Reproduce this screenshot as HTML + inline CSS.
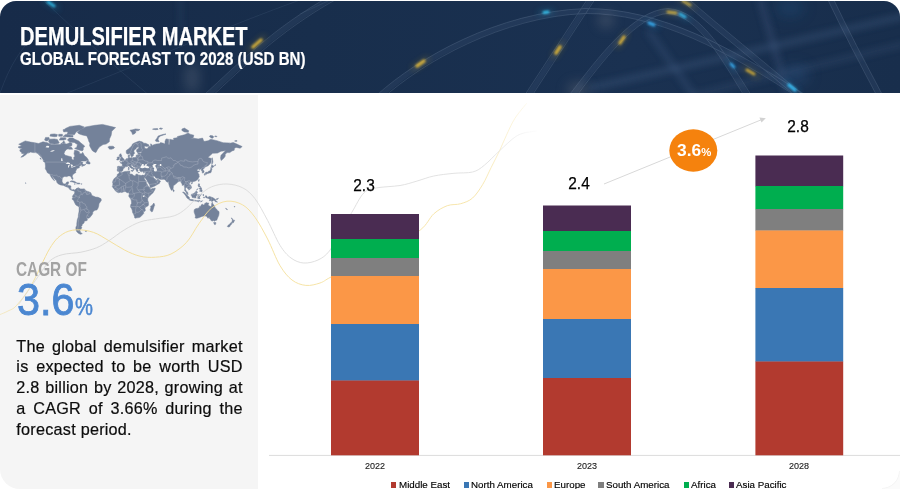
<!DOCTYPE html>
<html><head><meta charset="utf-8">
<style>
html,body{margin:0;padding:0;}
html{overflow:hidden;width:900px;height:489px;}
body{width:900px;height:489px;position:relative;overflow:hidden;background:#fff;font-family:"Liberation Sans",sans-serif;}
.abs{position:absolute;}
#hdr{left:0;top:1px;width:900px;height:92px;border-radius:16px 16px 0 0;overflow:hidden;
 background:linear-gradient(90deg,#172b49 0%,#182e4c 35%,#1a3151 70%,#182e4c 100%);}
#panel{left:0;top:95px;width:258px;height:394px;background:#f5f5f5;border-bottom-left-radius:20px;}
.t1{left:20.1px;top:22.2px;color:#fff;font-weight:bold;font-size:25.3px;line-height:28px;white-space:nowrap;transform-origin:0 0;transform:scaleX(0.794);-webkit-text-stroke:0.25px #fff;}
.t2{left:20.3px;top:48.1px;color:#fff;font-weight:bold;font-size:19.2px;line-height:22px;white-space:nowrap;transform-origin:0 0;transform:scaleX(0.787);-webkit-text-stroke:0.2px #fff;}
.cagr{left:16.3px;top:257.2px;color:#a3a3a3;font-weight:bold;font-size:20.9px;line-height:24px;white-space:nowrap;transform-origin:0 0;transform:scaleX(0.735);}
.big{left:16.6px;top:274.6px;color:#4b87d1;font-size:43.5px;line-height:50px;white-space:nowrap;transform-origin:0 0;transform:scaleX(0.95);-webkit-text-stroke:0.9px #4b87d1;}
.bigp{left:75.4px;top:291.6px;color:#4b87d1;font-size:24.6px;line-height:30px;white-space:nowrap;transform-origin:0 0;transform:scaleX(0.82);-webkit-text-stroke:0.5px #4b87d1;}
.para{left:16.3px;top:335.6px;width:226.4px;color:#0c0c0c;font-size:16.2px;letter-spacing:0.25px;line-height:20.9px;-webkit-text-stroke:0.2px #0c0c0c;}
.para div{text-align:justify;text-align-last:justify;white-space:nowrap;height:20.9px;}
.para div.last{text-align-last:left;}
.val{color:#000;font-size:16.5px;line-height:18px;width:60px;text-align:center;-webkit-text-stroke:0.25px #000;transform:scaleX(0.935);}
.yr{color:#1a1a1a;-webkit-text-stroke:0.12px #1a1a1a;font-size:9px;line-height:12px;width:60px;text-align:center;}
.lg{top:478.8px;font-size:9.7px;line-height:12px;color:#000;white-space:nowrap;-webkit-text-stroke:0.15px #000;transform-origin:0 0;transform:scaleX(1.008);}
.sq{position:absolute;top:482.3px;width:5.4px;height:5.4px;}
</style></head><body>
<div id="hdr" class="abs">
<svg width="900" height="92" viewBox="0 1 900 92" style="position:absolute;left:0;top:0">
<defs>
<filter id="b1" x="-20%" y="-20%" width="140%" height="140%"><feGaussianBlur stdDeviation="0.7"/></filter>
<filter id="b2" x="-50%" y="-50%" width="200%" height="200%"><feGaussianBlur stdDeviation="1.1"/></filter>
<filter id="b3" x="-50%" y="-50%" width="200%" height="200%"><feGaussianBlur stdDeviation="3"/></filter>
<filter id="b8" x="-50%" y="-50%" width="200%" height="200%"><feGaussianBlur stdDeviation="7"/></filter>
</defs>

<!-- broad soft bands -->
<g filter="url(#b3)" fill="none" stroke="#48628a">
<path d="M590 88L905 16" stroke-width="7" opacity="0.30"/>
<path d="M690 96L905 44" stroke-width="6" opacity="0.22"/>
<path d="M760 -2L788 96" stroke-width="7" opacity="0.28"/>
<path d="M648 30L694 96" stroke-width="7" opacity="0.25"/>
<path d="M180 -2L181 30" stroke-width="3" opacity="0.25"/>
</g>
<g filter="url(#b8)" opacity="0.55">
<ellipse cx="192" cy="78" rx="5" ry="16" fill="#8b93a0" opacity="0.7"/>
<ellipse cx="606" cy="20" rx="6" ry="6" fill="#a9a4a8" opacity="0.8"/>
<ellipse cx="578" cy="90" rx="10" ry="6" fill="#8d8a8c" opacity="0.8"/>
<ellipse cx="795" cy="75" rx="14" ry="10" fill="#2a527e" opacity="0.8"/>
<ellipse cx="790" cy="8" rx="14" ry="8" fill="#23507c" opacity="0.8"/>
</g>
<!-- tubes -->
<g fill="none" stroke-linecap="round" filter="url(#b1)">
<g stroke="#6f87a8" opacity="0.11" stroke-width="5">
<path d="M207 96C240 66 275 30 332 -2"/>
<path d="M380 96C420 60 500 14 585 11C660 10 730 50 802 96"/>
<path d="M528 96L592 -2"/>
<path d="M572 96C600 60 635 12 668 11C700 12 725 60 748 96"/>
<path d="M683 -2C720 30 760 62 800 96"/>
<path d="M830 -2C845 30 862 62 880 96"/>
</g>
<g stroke="#9fb2cc" opacity="0.26" stroke-width="0.7">
<path d="M205 94C238 64 273 28 330 -4"/><path d="M210 98C243 68 278 32 335 0"/>
<path d="M378 94C418 58 498 12 585 8.5C660 8 732 48 804 94"/><path d="M383 98C423 62 502 17 585 13.5C658 13 728 52 799 98"/>
<path d="M525.5 94L589.5 -4"/><path d="M530.5 98L594.5 0"/>
<path d="M570 94C598 58 633 10 668 8.5C702 10 727 58 750.5 94"/><path d="M575 98C602 62 637 15 668 13.5C698 15 723 62 745.5 98"/>
<path d="M685 -4C722 28 762 60 802 94"/><path d="M681 0C718 32 758 64 798 98"/>
<path d="M832.5 -3C847.5 29 864.5 61 882.5 95"/><path d="M827.5 -1C842.5 31 859.5 63 877.5 97"/>
</g>
<g stroke="#5f7796" opacity="0.22" stroke-width="0.8">
<path d="M43 0C70 25 95 50 150 96"/><path d="M60 96C150 60 230 25 300 0"/>
<path d="M0 93C5 80 12 60 30 40"/>
<path d="M300 14L328 1"/>
</g>
</g>
<g filter="url(#b3)" stroke-linecap="round" fill="none"><path d="M44.7 -0.2L57.3 8.2" stroke="#2fb5e0" stroke-width="3.5" opacity="0.3"/><path d="M250.0 49.6L264.0 37.4" stroke="#e2b83a" stroke-width="3.5" opacity="0.3"/><path d="M413.7 68.3L427.3 58.7" stroke="#e2b83a" stroke-width="3.5" opacity="0.3"/><path d="M540.0 13.0L552.0 11.5" stroke="#35c0ea" stroke-width="3.5" opacity="0.3"/><path d="M553.8 56.3L562.2 43.7" stroke="#e2b83a" stroke-width="3.5" opacity="0.3"/><path d="M617.8 46.3L626.2 33.7" stroke="#e2b83a" stroke-width="3.5" opacity="0.3"/><path d="M645.3 21.5L657.7 26.5" stroke="#35a8ea" stroke-width="3.5" opacity="0.3"/><path d="M664.0 11.5L680.0 13.5" stroke="#d9b640" stroke-width="3.5" opacity="0.3"/><path d="M676.6 11.9L688.4 19.1" stroke="#35b8ea" stroke-width="3.5" opacity="0.3"/><path d="M679.5 -1.0L693.5 7.0" stroke="#d9b640" stroke-width="3.5" opacity="0.3"/><path d="M728.2 61.2L736.8 69.8" stroke="#35a8ea" stroke-width="3.5" opacity="0.3"/><path d="M743.5 68.0L757.5 76.0" stroke="#e2b83a" stroke-width="3.5" opacity="0.3"/><path d="M785.9 82.4L798.1 92.6" stroke="#35b8f0" stroke-width="3.5" opacity="0.3"/></g>
<!-- glows -->
<g filter="url(#b2)" stroke-linecap="round">
<path d="M48 2L54 6" stroke="#2fb5e0" stroke-width="3" opacity="0.9" fill="none"/>
<path d="M253 47L261 40" stroke="#e2b83a" stroke-width="3.4" opacity="0.85" fill="none"/>
<path d="M417 66L424 61" stroke="#e2b83a" stroke-width="3.4" opacity="0.85" fill="none"/>
<path d="M544 12.5L548 12" stroke="#35c0ea" stroke-width="3.2" opacity="0.95" fill="none"/>
<path d="M556 53L560 47" stroke="#e2b83a" stroke-width="3.6" opacity="0.85" fill="none"/>
<path d="M620 43L624 37" stroke="#e2b83a" stroke-width="3.4" opacity="0.8" fill="none"/>
<path d="M649 23L654 25" stroke="#35a8ea" stroke-width="3" opacity="0.95" fill="none"/>
<path d="M668 12L676 13" stroke="#d9b640" stroke-width="3" opacity="0.8" fill="none"/>
<path d="M680 14L685 17" stroke="#35b8ea" stroke-width="3" opacity="0.9" fill="none"/>
<path d="M683 1L690 5" stroke="#d9b640" stroke-width="3" opacity="0.7" fill="none"/>
<path d="M731 64L734 67" stroke="#35a8ea" stroke-width="2.6" opacity="0.95" fill="none"/>
<path d="M747 70L754 74" stroke="#e2b83a" stroke-width="3" opacity="0.8" fill="none"/>
<path d="M789 85L795 90" stroke="#35b8f0" stroke-width="3.4" opacity="0.95" fill="none"/>
</g>

</svg>
</div>
<div class="abs t1" id="t1">DEMULSIFIER MARKET</div>
<div class="abs t2" id="t2">GLOBAL FORECAST TO 2028 (USD BN)</div>
<div id="panel" class="abs"></div>
<svg class="abs" style="left:0;top:0" width="900" height="489" viewBox="0 0 900 489">
<defs>
<linearGradient id="gy" gradientUnits="userSpaceOnUse" x1="0" y1="0" x2="540" y2="0">
<stop offset="0" stop-color="#f3dc8f" stop-opacity="0.5"/><stop offset="0.08" stop-color="#f3dc8f"/><stop offset="0.88" stop-color="#f6e3a3"/><stop offset="1" stop-color="#f6e3a3" stop-opacity="0"/></linearGradient>
<linearGradient id="gg" gradientUnits="userSpaceOnUse" x1="0" y1="0" x2="540" y2="0">
<stop offset="0" stop-color="#d9d9d9" stop-opacity="0.4"/><stop offset="0.08" stop-color="#d6d6d6"/><stop offset="0.9" stop-color="#e0e0e0"/><stop offset="1" stop-color="#dedede" stop-opacity="0"/></linearGradient>
</defs>
<g id="map"><path d="M18.0 147.1L21.7 145.7L18.7 144.3L25.2 140.9L30.5 142.1L34.9 142.8L38.6 143.5L43.0 141.8L47.4 142.7L51.1 144.6L55.5 144.6L59.3 144.6L61.8 144.0L63.7 140.7L64.9 142.4L64.3 143.5L66.8 144.0L68.0 143.5L69.9 142.6L72.1 143.5L71.8 145.7L69.3 146.7L68.7 148.7L66.8 149.2L64.9 151.2L64.0 153.5L65.2 155.3L68.0 156.0L71.5 156.9L71.8 158.8L73.0 160.3L73.9 159.2L73.7 157.5L74.9 156.2L74.0 153.8L74.6 150.3L76.8 150.4L79.3 151.7L79.6 153.8L81.8 153.7L82.7 152.3L84.6 155.8L86.8 157.5L88.2 159.7L87.4 160.2L85.6 161.1L81.8 161.1L79.9 162.5L81.5 162.1L82.9 162.3L82.4 163.7L83.1 164.5L84.9 164.7L85.6 164.1L85.4 164.9L83.1 165.9L81.8 166.4L82.4 165.1L81.2 165.3L79.3 166.3L79.3 167.8L76.8 168.6L76.2 170.2L75.5 171.2L75.9 172.5L74.3 173.4L72.7 174.8L72.2 176.2L73.0 178.5L72.7 179.4L71.9 178.9L71.3 177.5L70.5 176.2L69.3 175.9L67.4 176.0L67.2 176.8L66.2 176.6L64.3 176.5L62.4 177.7L62.2 179.2L62.0 181.2L63.0 183.5L64.0 184.0L65.8 183.8L66.5 182.3L68.0 181.8L68.7 182.0L68.4 183.5L67.9 184.4L67.7 185.5L69.3 185.5L71.0 186.0L70.7 188.0L71.2 189.2L72.1 189.9L73.4 189.5L74.7 190.1L74.2 190.8L73.0 190.9L72.4 190.5L71.2 190.3L69.5 189.2L68.4 187.4L66.8 186.9L65.4 186.4L63.7 185.4L60.5 184.9L58.0 183.7L57.0 182.6L56.5 180.7L54.6 178.9L53.0 176.8L51.3 175.0L52.4 176.8L53.6 178.9L54.6 180.7L53.0 179.5L51.5 177.5L50.5 175.8L49.8 174.3L49.0 173.4L47.6 173.0L46.5 170.7L45.3 168.8L45.5 166.1L45.1 162.7L46.1 162.5L44.9 161.3L43.0 159.7L41.8 157.5L39.9 155.8L38.3 154.0L36.8 153.1L35.5 152.6L33.0 152.6L30.5 152.1L28.3 153.2L29.2 151.5L27.1 153.5L25.5 154.9L23.0 156.7L20.8 157.3L22.4 155.8L24.2 154.0L24.9 153.7L21.7 153.5L21.7 152.6L19.9 151.2L19.9 149.7L22.4 148.2L19.9 148.2ZM82.4 150.9L78.7 149.9L74.6 148.4L76.8 147.2L77.4 144.6L74.3 142.4L69.9 142.2L67.4 140.1L69.3 138.0L73.0 138.1L74.9 139.3L78.7 140.9L80.9 143.0L84.3 145.7L84.6 146.7L83.1 147.7L83.4 149.2ZM49.9 143.5L54.3 143.9L57.4 143.8L59.3 143.0L57.4 139.5L54.3 138.9L49.3 139.2L48.6 141.3ZM44.6 140.1L46.1 141.0L47.7 140.7L49.3 138.9L49.0 137.4L45.5 137.4ZM66.8 134.6L74.3 134.8L76.2 131.9L81.8 129.1L84.3 126.9L79.3 125.3L69.9 126.4L65.5 128.4L68.0 131.9ZM63.0 136.5L67.4 137.0L73.0 136.9L73.0 135.6L65.5 134.4ZM49.9 136.1L54.3 136.7L56.8 136.5L57.4 134.6L54.3 133.9L50.5 134.3ZM58.7 136.2L62.4 136.2L62.4 134.3L58.7 134.3ZM63.7 131.9L68.0 131.6L66.8 128.4L63.0 129.8ZM68.7 149.2L72.7 149.2L71.2 146.9L69.0 147.2ZM59.3 140.1L63.7 140.1L66.2 139.2L65.5 137.7L60.5 137.7ZM60.8 143.5L63.3 143.9L63.0 142.6ZM86.0 163.2L88.1 163.9L89.9 164.0L90.1 163.2L89.6 161.9L88.2 161.3L88.4 160.0L87.1 160.9L86.0 162.9ZM42.8 160.7L44.9 161.1L45.9 162.6L44.6 162.3ZM39.9 158.0L40.8 158.0L41.0 159.5ZM69.9 181.6L71.8 180.7L74.3 181.3L76.7 182.7L74.6 182.9L74.3 182.4L71.8 181.8ZM76.5 183.8L77.5 182.9L79.9 183.3L80.3 183.7L78.7 184.0ZM74.1 183.9L75.4 184.0L74.8 184.2ZM81.1 183.8L82.1 183.9L81.5 184.2ZM77.4 132.2L80.6 129.8L85.6 126.9L94.9 125.3L102.5 124.4L109.3 126.1L115.6 127.6L111.8 131.2L111.2 135.2L109.5 138.9L109.3 141.8L106.2 144.0L103.1 144.6L99.3 147.0L97.4 149.7L95.9 152.6L94.3 151.9L92.4 150.7L90.9 148.2L89.6 145.7L89.9 143.0L89.0 141.8L88.1 138.9L86.8 135.9L82.4 135.0L78.7 133.7ZM107.8 147.2L109.3 146.3L113.1 146.2L114.6 147.5L113.7 148.5L111.2 149.3L108.9 148.9L109.3 147.9ZM74.7 190.1L75.9 188.9L76.3 188.6L78.4 187.7L79.3 188.3L80.6 188.9L83.1 188.9L84.3 188.8L85.2 190.0L86.8 191.2L88.7 191.7L90.6 192.5L91.5 194.2L91.8 195.5L93.1 195.9L95.6 197.1L98.1 197.3L101.1 198.8L101.3 200.5L99.0 203.7L98.7 206.2L97.9 208.4L96.8 210.1L95.9 210.1L94.1 210.8L92.8 212.1L92.7 213.8L91.5 215.5L90.3 216.9L89.3 218.1L87.7 218.3L86.6 217.8L87.4 219.4L87.1 220.5L84.3 221.2L84.1 222.7L83.2 223.8L82.2 224.2L82.1 225.7L80.9 226.5L81.9 227.4L80.9 229.3L79.9 230.5L80.3 231.7L80.2 232.2L82.3 233.6L80.6 234.3L78.7 233.5L76.8 231.8L75.9 229.7L75.9 227.3L76.8 225.3L76.8 223.4L77.0 221.9L77.3 219.8L78.3 216.9L78.4 214.8L79.0 211.8L79.1 210.5L79.1 207.1L78.0 206.2L75.9 205.0L74.9 203.2L73.7 200.6L72.2 199.3L72.2 198.4L73.0 197.6L72.4 196.9L72.9 195.5L73.4 194.9L73.8 194.2L74.8 193.1L74.6 192.1L74.4 191.0ZM84.9 230.9L86.8 230.8L86.2 231.6ZM119.6 172.0L119.2 171.5L118.1 171.2L117.5 171.2L117.2 170.0L117.6 168.2L117.3 166.8L118.1 166.3L120.7 166.4L122.1 166.5L122.3 164.9L122.3 164.4L121.7 163.6L120.2 162.9L120.3 162.4L121.8 162.4L122.0 161.6L123.2 161.7L124.2 160.6L125.1 160.2L125.8 159.5L126.1 158.8L127.5 158.4L128.5 158.0L128.2 156.7L128.2 155.3L129.7 154.7L129.5 156.2L129.2 157.1L129.5 157.6L130.0 158.0L130.8 157.8L131.5 157.5L132.0 158.0L133.4 157.5L134.8 157.6L135.6 157.3L136.2 156.4L136.2 155.3L137.2 154.7L138.0 155.3L138.4 154.2L137.8 153.3L138.6 153.1L140.6 153.1L142.0 152.7L141.1 152.0L138.7 152.4L137.5 152.7L136.9 152.1L136.6 151.2L136.6 149.7L139.0 147.7L138.2 146.9L137.0 147.2L135.8 148.9L134.0 150.3L133.9 151.9L134.7 153.1L133.5 154.6L133.4 155.6L132.9 156.1L132.0 156.8L131.2 156.7L130.5 154.7L129.8 153.2L128.1 154.3L126.6 153.5L126.2 152.2L126.3 150.5L128.4 149.0L129.9 147.8L130.9 146.7L132.1 145.3L132.5 144.0L134.9 142.7L139.2 141.1L142.5 141.9L143.7 143.2L145.6 143.3L148.8 144.8L148.8 146.0L146.9 146.5L144.4 145.9L144.7 148.2L146.3 148.8L148.3 148.1L148.0 147.1L149.4 146.3L150.6 146.5L150.8 144.8L150.2 143.9L151.9 144.4L152.2 145.7L153.1 145.0L156.3 144.0L159.4 143.7L160.6 142.6L163.5 143.3L165.0 144.0L165.0 141.3L166.0 138.9L168.5 139.2L168.8 141.3L168.5 144.6L169.4 144.6L169.7 141.3L169.7 139.2L171.9 139.8L173.8 140.1L173.5 138.3L177.2 137.7L177.5 136.5L184.4 134.8L188.2 133.0L190.0 134.2L193.8 135.2L193.2 137.7L190.0 138.6L194.1 138.3L198.2 138.9L202.6 138.1L203.8 141.3L205.1 141.3L208.2 140.7L210.7 139.3L217.0 140.7L223.2 142.7L229.5 143.0L228.8 143.5L233.2 142.6L235.7 143.5L238.9 145.1L242.2 146.6L240.1 148.2L236.4 147.4L234.5 148.1L234.2 150.2L232.0 150.9L229.8 152.6L227.0 152.6L225.1 154.4L225.3 156.0L224.5 157.3L223.2 158.8L221.1 160.5L220.5 158.0L221.0 155.3L224.2 152.1L225.7 150.4L223.2 151.0L221.0 151.2L217.6 153.1L213.8 153.2L212.6 153.2L209.8 155.8L207.9 157.4L211.5 158.6L211.0 160.5L211.0 162.5L209.8 164.1L208.2 165.8L205.7 166.7L204.8 167.3L204.3 168.3L202.9 169.2L202.9 169.6L204.1 171.2L203.9 172.5L202.3 173.1L202.2 171.6L202.3 170.9L201.3 170.5L201.4 169.4L200.9 169.1L199.1 169.8L199.4 168.5L197.7 169.4L196.8 169.8L197.2 170.5L197.6 171.1L199.7 171.0L198.5 172.0L197.7 172.7L198.5 173.7L199.3 175.1L198.8 175.9L199.4 176.3L198.8 177.5L198.0 178.9L196.9 179.9L196.1 180.7L194.6 181.3L192.6 181.8L192.1 182.6L191.7 181.8L190.7 181.8L189.9 182.4L189.2 183.5L189.7 184.4L190.9 185.4L191.5 187.3L191.3 188.3L190.0 189.0L189.7 189.5L188.7 190.1L188.8 189.2L187.9 188.8L187.2 188.0L186.0 187.0L185.7 188.0L185.2 188.9L185.9 190.2L186.3 191.2L187.1 191.6L187.8 192.7L187.9 193.9L188.2 194.7L187.8 194.6L187.0 194.1L186.5 193.6L185.9 192.1L185.5 191.4L184.6 190.5L184.7 189.2L184.8 188.0L184.2 186.0L184.2 185.1L183.2 185.1L182.1 185.4L182.2 184.1L181.2 182.7L180.5 181.3L179.7 181.2L178.8 181.6L178.2 181.7L177.5 181.9L177.2 182.8L175.2 184.3L174.6 185.0L173.3 185.7L173.3 187.3L173.0 189.0L172.5 189.7L171.6 190.4L170.8 189.2L169.9 187.3L169.3 185.7L168.7 183.5L168.6 182.2L168.5 181.5L167.2 182.3L166.3 181.4L166.1 180.7L165.3 180.2L164.9 179.5L163.1 179.3L161.9 179.4L160.0 179.3L159.0 178.9L158.5 178.1L157.2 178.5L155.9 177.9L154.9 176.8L154.4 176.0L153.4 176.2L153.1 176.6L153.6 177.7L154.4 178.4L154.9 179.2L155.3 178.8L155.4 179.7L156.9 180.1L158.1 179.0L158.4 178.7L158.5 179.9L159.8 180.5L160.5 181.2L159.7 182.5L159.3 183.5L158.1 184.1L156.9 184.8L155.8 185.4L153.8 186.5L151.3 187.4L150.3 187.5L149.9 186.0L149.7 185.0L148.8 183.5L147.6 181.8L146.9 180.2L145.9 178.9L145.0 177.5L145.0 176.5L144.7 177.5L144.5 177.7L143.5 176.2L143.3 175.3L144.6 175.3L145.0 174.2L145.3 173.4L145.5 172.3L145.8 171.5L144.7 171.4L143.6 172.0L142.3 171.3L141.6 171.8L140.7 171.5L140.2 171.2L139.6 170.2L139.5 169.4L139.5 169.1L139.4 168.5L137.5 168.7L138.1 169.1L137.3 169.6L138.1 170.5L137.6 171.6L137.1 171.6L136.7 171.4L136.4 170.5L135.9 169.6L135.2 168.7L135.3 167.7L134.7 167.3L134.0 166.8L133.1 166.4L132.6 165.9L132.2 165.1L131.6 165.4L131.7 164.7L130.8 165.1L130.9 165.4L131.0 166.1L131.5 166.4L132.0 167.2L133.2 167.6L133.7 168.2L134.4 168.6L134.7 169.0L134.6 169.2L133.9 168.7L133.5 169.3L133.8 169.8L133.4 170.4L132.9 170.6L133.0 170.1L133.1 169.4L132.8 169.1L132.4 168.6L132.0 168.5L131.2 168.2L130.7 167.7L130.0 167.3L129.7 166.8L129.5 166.4L129.2 166.0L128.7 165.7L128.1 166.1L127.7 166.3L126.9 166.7L126.4 166.6L125.6 166.4L125.1 166.7L125.0 167.3L124.5 168.0L123.7 168.3L123.6 168.5L122.9 169.4L123.2 170.0L122.8 170.3L122.6 170.8L121.7 171.5L120.3 171.5L119.8 171.9ZM119.5 161.3L120.9 161.1L122.5 160.7L124.0 160.4L124.2 159.1L123.3 158.8L123.1 158.3L122.3 157.4L122.1 156.7L121.2 156.2L121.8 155.2L120.9 154.7L121.2 153.9L120.0 153.9L119.5 154.9L119.2 155.6L119.7 156.7L120.1 157.1L121.1 157.3L121.1 158.5L120.2 158.6L120.4 159.2L119.8 159.8L121.1 160.2L120.4 160.5ZM116.8 160.0L117.9 159.9L119.2 159.5L119.3 158.5L119.7 157.5L119.2 156.9L117.9 156.9L116.8 157.8L117.5 158.6L116.7 159.5ZM130.0 130.2L131.9 132.6L132.5 134.4L134.4 133.9L136.2 131.9L135.0 130.4L138.1 130.8L140.0 129.5L135.6 128.9L132.5 129.8ZM155.3 140.7L156.3 141.5L159.1 141.7L158.1 139.5L158.5 137.7L160.6 135.9L166.0 134.2L165.6 133.9L161.9 134.7L158.1 136.1L156.9 138.3L155.9 139.5ZM152.5 129.2L155.6 129.7L158.1 129.4L157.5 128.5L153.8 128.7ZM181.9 130.5L184.4 131.9L188.2 132.3L188.8 130.8L184.4 128.1L181.9 129.1ZM209.4 136.5L211.3 138.0L212.6 138.2L213.8 137.0L212.6 135.7L210.1 135.5ZM234.8 141.3L237.0 141.3L237.0 140.6L234.8 140.7ZM211.9 164.5L212.9 162.1L212.6 159.7L212.3 157.7L211.9 159.7L211.9 162.1L211.8 164.1ZM210.7 167.9L211.3 166.8L211.8 165.0L214.0 166.2L212.8 167.6L211.5 167.3ZM211.6 168.1L211.9 169.4L211.3 170.9L211.2 172.2L210.6 172.7L209.9 172.9L208.7 173.0L208.0 173.7L207.6 173.0L206.0 173.2L205.1 173.4L205.1 173.0L206.1 172.3L208.2 172.2L208.7 171.0L209.8 171.0L210.6 169.8L210.7 168.5ZM204.4 173.7L205.4 173.7L205.3 175.1L204.6 175.3L204.3 174.2ZM206.0 173.4L207.3 173.2L207.1 173.9L206.2 174.2ZM198.8 179.4L199.4 179.7L198.7 181.5L198.2 180.7ZM191.1 183.3L192.2 182.8L192.6 183.1L191.6 184.0ZM173.0 189.4L174.0 190.2L174.3 191.1L173.5 191.7L173.0 190.8ZM198.5 183.8L199.6 183.9L199.4 185.4L200.7 187.0L200.7 187.5L199.4 186.8L198.6 186.8L198.2 185.7ZM199.4 191.1L200.4 190.2L201.6 189.3L202.3 190.9L201.6 191.9L200.7 191.4ZM199.4 188.1L201.3 187.8L201.6 189.0L200.2 189.7L199.4 188.9ZM196.4 190.2L197.9 188.5L197.7 189.1L196.7 190.3ZM182.7 192.0L184.1 192.2L185.9 193.9L187.9 196.0L189.4 197.5L189.3 199.1L188.5 199.1L187.0 198.0L185.9 196.1L184.9 194.4L183.8 193.4L182.7 192.2ZM188.9 199.8L189.7 199.3L191.0 199.6L192.4 199.5L193.6 199.9L194.7 200.4L194.7 201.0L192.6 200.7L190.7 200.4L189.7 200.1ZM191.3 194.6L191.7 194.2L192.7 194.6L192.7 193.7L193.8 193.5L195.1 192.4L196.1 191.1L196.7 191.6L197.7 192.2L196.9 192.8L196.7 193.9L197.6 194.9L196.6 195.5L196.0 196.4L195.9 197.9L194.7 198.0L194.1 197.6L193.0 197.7L192.1 197.3L191.9 196.3L191.3 195.5ZM198.0 195.0L198.7 194.7L200.4 194.9L201.3 194.5L201.0 195.2L200.1 195.2L198.4 195.3L198.3 196.1L199.1 196.1L200.2 196.0L199.9 196.6L199.1 196.8L199.6 197.6L200.1 198.3L199.7 198.9L199.1 198.4L198.8 197.4L198.4 197.4L198.4 198.9L197.9 198.9L197.9 197.7L197.4 197.3L198.1 195.6ZM195.1 200.6L196.3 200.7L197.6 200.7L198.8 200.8L200.1 200.6L200.1 201.0L198.2 201.1L196.3 201.1L195.1 201.0ZM197.6 201.5L198.7 201.6L198.2 202.0ZM200.4 202.0L201.3 201.1L202.6 200.8L202.3 201.1L201.0 201.8ZM202.9 195.0L203.2 194.1L203.6 194.7L203.5 196.0L203.1 195.7ZM203.2 197.4L204.9 197.4L204.8 197.8L203.3 197.7ZM205.1 196.0L206.0 195.8L206.9 196.0L207.1 197.1L207.6 197.6L208.5 196.9L209.4 196.5L211.3 197.1L213.5 197.9L214.3 198.8L215.4 199.3L215.6 199.9L216.0 201.1L217.5 202.1L216.6 202.0L215.1 201.5L214.5 200.5L213.5 200.3L212.6 201.3L211.3 201.2L210.4 200.5L209.4 200.7L209.4 199.9L209.9 199.6L209.4 198.9L207.9 198.3L206.6 197.9L206.2 198.0L205.7 197.3L206.6 196.9L205.7 196.8L205.1 196.4ZM216.0 199.0L217.3 198.8L218.3 198.1L218.2 198.8L217.3 199.4L216.1 199.3ZM119.4 172.1L119.8 172.0L121.2 172.5L121.8 172.6L122.7 172.2L125.0 171.4L126.2 171.4L127.5 171.2L129.2 171.0L130.0 171.2L129.7 172.0L129.8 172.9L129.4 173.4L130.0 173.9L131.4 174.1L132.6 174.5L133.7 175.5L135.0 175.9L135.6 175.5L135.6 174.7L136.6 174.1L137.5 174.3L138.1 174.8L138.7 175.1L140.1 175.2L141.2 175.6L141.9 175.3L142.5 175.1L143.3 175.3L143.4 176.2L144.1 177.5L144.2 178.1L145.0 179.9L145.4 180.3L146.3 181.5L146.4 182.2L146.4 183.1L147.2 184.1L147.8 185.7L148.8 186.4L149.7 187.3L150.1 188.2L150.6 188.9L151.3 189.0L152.5 188.5L153.8 188.4L155.2 188.1L155.1 189.0L154.4 190.5L153.8 191.4L153.1 192.7L151.4 194.2L150.0 195.5L149.1 196.6L147.9 198.0L147.7 199.8L147.8 200.8L148.4 202.1L148.5 204.3L148.6 205.0L147.5 206.2L146.3 206.8L144.9 208.0L145.2 209.5L145.3 210.8L143.6 212.1L143.7 213.5L142.5 214.8L140.9 216.6L139.2 217.6L136.9 217.8L135.6 218.2L134.6 217.8L134.5 216.6L133.7 214.5L132.6 212.5L132.2 210.1L131.5 208.5L130.5 206.9L130.5 205.9L130.9 204.3L131.5 203.4L131.4 201.0L130.8 199.3L130.7 199.1L130.0 198.0L128.9 196.4L128.6 195.9L129.0 195.2L129.2 194.1L129.0 193.1L128.6 192.7L127.5 192.7L126.9 192.7L126.2 191.9L125.2 191.5L123.9 191.7L123.1 192.0L121.8 192.5L120.6 192.2L118.4 192.7L118.3 192.7L116.3 191.6L114.8 190.2L114.5 189.5L113.7 188.6L113.1 188.0L112.7 187.0L112.2 186.2L112.8 185.4L112.9 183.5L112.5 182.2L113.1 180.4L113.8 179.2L115.0 177.7L116.2 177.0L117.0 176.2L117.1 175.9L117.3 174.4L118.3 173.7L118.8 173.4ZM153.9 203.0L154.7 205.3L154.2 206.2L153.0 210.1L152.5 211.5L151.4 211.8L150.4 210.5L150.2 209.2L150.9 208.0L150.6 206.2L152.1 205.5L153.1 204.0ZM212.3 202.2L212.9 204.3L214.0 205.0L214.5 206.2L215.1 207.7L216.5 209.0L217.5 210.5L219.0 211.5L219.1 213.1L218.8 215.2L217.8 217.5L217.0 219.4L217.0 220.1L215.4 220.5L214.7 221.3L213.7 220.5L212.9 221.1L211.0 220.5L210.5 219.4L209.8 218.3L209.3 218.5L209.3 216.8L208.2 218.2L207.9 218.2L207.1 216.9L206.6 216.2L205.1 215.9L203.8 216.0L201.9 216.4L200.7 216.9L199.4 217.6L197.9 217.9L196.9 218.3L195.1 217.9L195.5 216.2L195.1 214.8L194.7 213.8L194.1 212.1L194.1 210.8L194.4 209.5L196.0 208.6L197.2 208.4L198.8 208.0L199.6 206.9L199.6 206.2L200.4 206.4L201.0 205.6L201.6 204.6L202.6 204.3L203.3 204.9L204.1 204.9L204.9 203.3L205.4 203.2L206.1 202.6L207.6 203.0L208.7 203.0L208.5 204.2L207.9 205.0L208.8 205.6L210.4 206.6L211.2 206.6L211.6 205.0L211.7 203.4ZM213.6 222.5L215.8 222.5L215.8 223.4L215.4 224.6L214.5 224.6L214.0 223.6ZM231.2 217.9L232.2 218.5L232.9 219.5L233.2 220.2L234.7 220.3L234.0 221.5L233.4 222.7L232.5 223.0L232.5 221.9L231.8 221.4L232.4 220.5L232.3 219.6ZM231.2 222.3L232.1 222.8L231.3 224.6L230.3 225.2L229.9 226.5L228.5 227.0L227.3 226.5L228.3 225.1L229.8 224.0L230.6 223.1ZM225.7 208.3L227.5 209.5L227.2 209.7L225.7 208.7ZM234.0 206.6L234.9 206.6L234.6 207.0L234.0 206.9ZM25.5 182.7L26.1 183.0L25.7 183.5L25.5 183.1ZM143.3 172.7L144.7 172.2L144.3 172.7L143.5 173.0ZM137.8 172.3L139.6 172.5L138.4 172.7ZM130.9 170.5L132.9 170.4L132.6 171.5L130.9 170.8ZM128.2 168.4L129.2 168.3L129.1 169.6L128.4 169.8ZM128.5 167.2L129.0 166.8L129.0 168.0L128.6 167.9ZM214.5 165.7L216.0 164.9L215.7 164.7L214.3 165.5ZM159.4 128.9L161.9 129.2L162.5 128.4L160.0 127.9ZM214.8 136.6L217.0 136.7L216.3 135.9L214.8 136.0Z" fill="#74829a" stroke="#74829a" stroke-width="0.5" stroke-linejoin="round"/><path d="M46.1 162.1L63.7 162.1L67.4 162.9L70.2 164.1L71.5 165.1L71.5 167.2L73.7 166.7L75.2 166.1L76.4 165.3L78.4 165.3L79.8 163.4L80.7 163.7L81.2 165.3M34.9 142.8L34.9 152.3L37.4 153.5L38.6 153.1L41.8 156.7M49.8 174.4L51.3 174.4L53.6 175.3L55.4 175.3L56.5 174.9L57.7 176.4L58.7 176.8L59.6 176.3L60.8 177.9L62.3 178.9M65.4 186.4L65.8 184.6L67.3 184.2L67.3 185.5M67.3 186.4L68.2 187.3M70.7 188.6L69.5 188.5M71.4 189.5L71.2 190.4M90.8 192.9L89.0 194.1L86.8 194.6L85.6 192.2L83.1 193.0L82.4 194.9L81.2 194.4L79.3 195.8L79.3 198.1L77.4 199.9L77.1 201.5L79.0 201.5L79.6 202.4L82.2 201.8L82.4 203.0L85.2 204.1L85.6 205.7L86.8 206.6L86.9 208.2L86.8 209.5L88.2 209.7L89.1 210.8L88.9 211.9L89.4 212.9L87.1 215.0L89.7 217.4M81.2 210.0L80.2 212.1L79.3 215.5L79.2 217.6L78.7 219.8L78.2 222.7L78.3 225.7L77.7 228.9L77.9 230.5L80.2 231.6M79.6 202.4L79.9 205.3L79.6 206.6L80.6 207.9L80.6 210.0L81.2 210.0L83.9 209.6L86.8 208.2M83.9 209.6L86.8 212.9L88.9 211.9M87.1 215.0L86.6 217.6M78.5 188.1L77.7 189.9L78.0 191.1L80.9 191.6L81.2 194.4M73.8 194.6L76.0 195.6L75.9 196.8L74.3 197.7L72.9 197.6M76.0 195.6L77.4 196.9L79.3 197.1L79.3 198.1M85.6 192.2L84.9 190.2M86.8 194.6L87.3 191.7M89.0 194.1L89.3 191.9M79.1 207.1L79.6 206.6M138.7 175.1L138.7 181.5L146.2 181.5M138.7 181.5L138.7 182.8L138.1 183.1L133.1 180.5L132.5 180.9L130.6 180.5L129.3 178.5L129.0 176.0L130.3 174.0M130.6 180.5L125.7 183.3L125.2 183.5L123.9 182.1L120.1 179.5L117.7 178.0L117.7 177.0L120.8 175.5L122.3 174.4L121.7 172.6M117.7 178.0L114.8 177.7M120.1 179.5L119.0 179.5L119.7 185.1L115.9 185.9L115.5 186.2L112.8 185.4M117.7 178.0L117.7 178.9L115.6 178.9L115.6 180.6L115.0 182.0L112.5 182.0M129.0 176.0L127.8 173.5L128.4 171.3M125.7 183.3L125.7 185.1L123.2 186.0L121.2 186.9L119.7 188.9L118.1 189.1L115.9 187.7L115.9 185.9M132.5 180.9L132.8 182.5L132.8 185.1L131.6 186.9L132.2 187.4L131.9 188.4L132.8 189.2L132.6 190.8L133.1 193.6L134.7 193.3L137.2 192.7L138.7 192.4L140.2 192.3L142.4 193.3M138.1 183.1L138.1 185.6L137.2 186.7L136.9 187.5L137.4 188.7L137.9 190.0L140.2 192.3M131.6 186.9L129.7 187.1L127.5 187.3L125.7 187.0L125.4 188.1L124.9 189.9L124.8 191.5M125.7 185.1L125.7 187.0M123.2 186.0L123.7 188.6L123.1 188.6L123.0 191.7M123.7 188.6L124.1 191.6M121.2 186.9L121.3 189.5L121.2 192.3M118.1 189.1L117.8 190.7L118.4 192.7M115.9 187.7L114.5 187.6L113.7 188.6M117.8 190.7L116.7 190.2L115.9 191.2M116.7 190.2L114.8 189.9M131.9 188.4L128.4 192.6M129.2 194.1L131.4 194.1L133.1 194.4M130.2 198.0L132.1 198.5L133.2 199.2L130.8 199.2M132.1 198.5L134.4 196.1L134.2 193.2M146.2 181.5L147.3 184.1L145.9 186.5L143.7 187.8L144.4 189.5L143.7 190.6L145.2 192.1L145.6 192.7L147.8 193.3L148.8 193.0L149.4 192.9L151.3 192.4L153.1 190.5L150.6 189.9L149.9 188.6L150.1 188.2M145.9 186.5L146.9 186.2L148.1 186.4L149.6 187.6M144.3 189.5L138.1 190.0L137.9 190.0M142.4 193.3L144.4 192.9L145.2 192.1M148.8 193.0L148.8 196.6M144.4 192.9L145.0 194.6L144.4 195.5L144.4 196.1L146.7 197.4L147.6 198.4M142.4 193.3L141.7 196.1L141.4 198.3L142.4 200.7L140.9 201.3L140.9 203.0L138.1 202.4L136.9 202.5L136.9 199.9L133.7 199.9L133.4 199.2M144.4 196.1L142.2 196.2M142.4 200.7L144.6 202.7L144.8 202.8L145.6 202.8L148.4 202.1M144.6 202.7L143.7 204.3L142.0 205.0L143.7 204.3L145.2 206.2L144.9 208.0M136.9 202.5L138.1 203.7L136.9 203.7L136.9 205.7L137.7 206.6L138.9 206.8L140.0 206.9L142.1 205.3L142.0 205.0M138.9 206.8L141.5 209.6L142.7 209.7L143.7 212.1M130.5 206.4L131.9 206.5L134.7 206.5L137.7 206.6M135.6 206.8L136.2 207.1L135.6 209.5L135.6 211.3L135.6 213.8L133.7 213.8L133.4 213.9M135.6 211.3L136.9 212.5L139.1 211.9L141.5 209.6M117.6 167.6L119.0 167.6L118.7 170.5L118.5 171.1M122.0 166.5L125.1 167.3M124.7 160.4L126.9 161.3L128.2 162.1L127.8 163.2L126.9 164.4L127.5 166.1L127.8 166.2M126.9 161.3L127.0 159.8L127.6 158.6M127.8 163.2L129.1 163.3L129.6 163.9L127.5 164.6M129.1 163.3L131.2 163.3L131.7 162.4L130.7 161.1L132.5 160.5L132.2 158.0M131.7 164.7L131.6 164.1L133.2 163.9L133.7 162.9L131.7 162.4M132.5 160.5L134.9 161.7L137.2 162.0L138.1 160.7L137.9 158.0L135.5 157.6M133.7 162.9L134.9 163.1L137.0 162.6L137.2 162.0M133.2 163.9L133.4 164.2L135.0 164.6L135.8 164.4L137.0 162.6L139.7 162.7L140.7 164.9L141.7 165.1M135.8 164.4L137.3 165.7L137.1 167.3L135.9 167.4L135.2 167.6L135.0 166.4L135.0 165.3L133.1 165.1L131.6 164.9M137.3 165.7L138.7 166.3L141.0 166.3M137.1 167.3L137.4 168.1L139.6 167.8L139.4 168.5M139.6 167.8L140.6 167.6M135.9 167.4L136.0 168.3L135.6 169.3M136.0 168.3L137.4 168.1M137.9 158.0L139.9 156.5L140.7 156.0L140.4 154.9L140.2 153.2M136.2 156.1L138.7 156.0L139.9 156.5M138.4 154.5L140.4 154.9M137.9 158.0L137.8 160.0L143.0 159.6L142.2 156.4L140.7 156.0M138.1 160.7L137.8 160.0M143.0 159.6L145.3 161.0L148.1 161.6L147.9 163.1L147.0 163.6M139.7 162.7L141.9 164.2M141.2 143.5L141.2 146.7L141.9 149.0L142.8 149.8L140.5 152.1M135.9 143.5L138.1 144.6L138.2 146.9M135.9 143.5L134.4 144.0L132.8 146.5L131.9 148.7L130.7 151.7L130.9 152.6L130.1 153.5M141.2 143.5L139.4 142.4L138.1 143.9L135.9 143.5M128.5 157.2L129.2 157.3M147.9 163.1L149.4 162.9L150.9 162.8L152.2 162.5L152.7 161.1L155.0 159.9L157.5 160.5L159.7 160.5L161.6 160.5L161.6 158.1L164.4 157.4L166.3 156.8L167.5 157.8L169.1 158.4L171.0 157.8L173.2 160.5L175.3 160.5L176.6 161.6L177.7 162.0M177.7 162.0L180.7 160.7L184.4 161.3L184.7 159.7L187.0 160.2L187.0 160.9L190.0 161.6L192.6 161.9L196.1 161.5L198.0 161.7L198.5 159.2L200.4 158.4L201.9 158.8L202.9 161.1L204.8 162.2L207.4 162.6L206.6 165.3L205.1 165.4L204.8 167.3M177.7 162.0L180.0 164.0L180.0 165.1L182.7 165.8L183.4 167.0L186.3 167.1L188.8 167.9L191.9 167.0L193.2 165.4L196.1 164.3L198.0 164.0L198.0 161.7M177.7 162.0L176.6 163.7L175.0 163.6L174.6 165.1L173.3 165.3L173.7 166.7L173.3 167.4L171.2 168.3L169.2 169.4L170.0 171.1M152.2 162.5L153.8 164.0M156.8 167.4L157.8 168.1L158.1 165.3L159.7 164.8L161.4 165.8L164.4 168.2L165.6 168.2L166.9 167.3L167.5 167.1L169.1 166.8L171.2 168.3M156.1 167.8L157.4 168.1L157.8 168.1M158.1 168.1L159.7 167.0L160.6 167.4L161.9 168.7L164.7 171.0L163.5 171.7L161.4 172.2L161.3 171.5L156.9 171.0M164.7 171.0L165.6 171.2L167.8 170.2L170.0 171.1M164.4 168.2L165.3 169.4L165.6 171.2M166.9 167.3L167.5 168.9L169.2 169.4M161.4 172.2L161.1 173.6L161.2 176.3L162.2 176.6L161.6 179.4M161.2 176.3L164.6 176.2L166.6 174.8L167.5 173.0L167.9 171.6L170.0 171.1M150.6 169.5L151.1 171.1L152.0 172.5L151.6 173.4L152.9 175.5L153.5 176.2M150.6 169.5L152.2 169.9L153.1 169.4L153.7 170.2M151.1 171.1L149.6 171.2L146.1 171.4L145.8 172.1M149.6 171.2L148.8 173.1L147.4 173.8L147.6 174.7L146.3 175.1L146.9 175.8L145.0 176.6M147.4 173.8L145.5 174.2L145.3 173.9M147.6 174.7L149.4 175.3L151.1 176.7L152.2 176.8L152.9 176.2M152.2 176.8L152.8 177.2L153.4 177.2M149.1 167.9L150.3 168.2L151.3 168.1L152.2 167.6L153.5 167.7M150.3 168.2L150.6 169.5L151.3 168.1M148.1 166.4L150.9 167.0L152.2 167.6M155.6 183.5L157.5 182.8L158.0 181.5L157.6 181.1L156.0 180.9L155.4 180.1M155.6 183.5L156.1 185.0M155.6 183.5L153.1 184.0L150.3 184.4L149.9 185.1M157.5 182.8L158.1 179.9M165.8 180.4L167.1 179.1L166.9 177.5L168.8 176.2L169.7 175.5L169.6 174.1L170.3 174.4L171.3 172.5L170.0 171.1M171.3 172.5L172.5 173.1L172.2 174.4L173.8 176.0L173.2 177.0L174.3 177.9L176.3 178.4L178.2 178.6L178.2 177.6L176.9 177.5L173.8 176.0M178.2 177.6L178.8 178.0L180.7 178.2L180.5 177.7L178.8 177.4L178.2 177.6M180.7 178.2L180.7 177.7L182.5 176.7L184.0 177.3L183.3 178.0L182.2 179.5L181.5 180.2L180.9 182.0L180.9 182.4M178.2 178.6L178.3 179.5L178.7 181.2M178.8 178.9L180.9 179.5L180.2 180.4L180.9 182.0M184.0 177.3L184.9 177.8L184.2 180.2L185.2 181.4L186.3 181.8L185.8 182.6L184.4 184.1L184.8 186.7M185.2 181.4L186.4 182.0L187.0 181.3L188.0 181.1L189.0 180.7L189.9 180.9L190.7 181.8M186.3 181.8L187.0 181.3M185.8 182.6L186.3 184.3L187.0 184.0L188.7 185.1L189.1 186.4L190.4 186.2L190.4 187.8L189.4 188.1L189.5 188.7L188.5 188.9M187.0 181.3L188.5 182.5L188.8 183.7L190.0 185.2L190.4 186.2M189.1 186.4L187.2 186.6L187.4 188.1M185.7 191.4L186.8 191.9M200.9 169.1L202.4 167.7L203.3 168.0L204.3 166.8L204.8 167.3M202.4 170.5L203.4 170.1M191.7 194.2L193.1 194.9L194.7 194.6L195.6 192.8L196.6 192.9M211.3 197.1L211.3 201.2" fill="none" stroke="#c9cfd8" stroke-width="0.45" stroke-linejoin="round" opacity="0.6"/><path d="M152.5 165.3L154.1 164.1L156.3 163.9L156.3 165.1L155.0 165.7L155.9 167.2L156.1 168.1L156.9 169.1L156.8 171.2L155.0 171.5L154.1 170.9L153.8 169.4L154.3 168.6L153.4 167.6L152.8 166.8ZM140.6 167.9L142.8 168.2L145.0 167.6L145.9 168.1L147.9 168.3L149.1 167.9L148.8 166.8L147.5 166.1L146.6 165.4L146.0 165.1L146.9 164.5L147.6 163.6L146.3 163.9L145.0 164.4L145.1 165.0L145.2 165.3L144.1 165.7L143.4 165.0L144.1 164.5L143.1 164.1L142.3 164.1L141.7 165.1L141.1 165.9L140.6 166.7L140.4 167.2ZM65.5 163.9L67.7 162.3L69.9 163.1L70.1 164.1L68.4 164.1L66.5 164.0ZM68.2 167.6L68.0 165.7L69.3 164.6L69.9 164.7L69.1 166.4L68.8 167.8ZM70.2 164.5L72.1 164.5L73.0 165.5L72.0 166.7L71.5 166.7L70.9 165.7L70.9 164.9ZM71.0 167.9L73.7 167.1L73.7 166.7L71.8 167.0ZM73.2 166.7L75.4 166.4L75.4 165.9L73.7 166.1ZM61.2 160.9L62.7 160.9L62.1 158.1L61.2 158.4ZM45.5 147.2L48.6 147.7L49.3 145.9L46.8 145.7ZM49.9 151.7L53.0 151.4L54.9 149.9L51.8 150.4ZM159.7 166.1L161.3 166.1L161.3 164.1L160.0 164.1ZM143.0 195.8L144.4 195.3L144.4 196.8L143.1 197.1Z" fill="#f5f5f5"/></g>
<path d="M0 314.6C1.3 314.0 5.3 312.5 8 311C10.7 309.5 12.6 309.8 16.4 305.6C20.2 301.4 25.4 295.3 31 285.8C36.6 276.3 44.6 257.0 49.8 248.4C55.0 239.8 57.8 237.5 62.2 234.4C66.6 231.3 71.0 230.2 76.2 229.8C81.4 229.5 87.8 230.5 93.3 232.3C98.8 234.1 103.7 237.8 108.9 240.7C114.1 243.6 119.3 247.4 124.5 250C129.7 252.6 134.8 255.0 140 256.2C145.2 257.4 150.4 257.6 155.6 257.2C160.8 256.8 165.8 256.5 171 254C176.2 251.5 182.0 247.3 186.7 242.2C191.4 237.1 194.8 229.3 199 223.6C203.2 217.9 206.9 211.7 211.6 208C216.3 204.3 221.8 201.7 227 201.2C232.2 200.7 238.0 202.2 242.7 204.9C247.4 207.6 250.8 211.6 255 217.3C259.1 223.0 263.4 230.9 267.6 239C271.8 247.1 275.9 258.8 280 265.6C284.1 272.4 287.7 276.7 292 280C296.3 283.3 301.1 284.9 305.8 285.4C310.5 285.9 315.8 284.4 320 283C324.2 281.6 324.3 280.5 331 277C337.7 273.5 350.2 266.8 360 262C369.8 257.2 379.9 253.3 390 248C400.1 242.7 413.0 235.7 420.3 230C427.6 224.3 429.3 217.9 433.8 213.8C438.3 209.8 442.8 207.4 447.3 205.7C451.8 204.0 456.6 205.0 460.8 203.7C465.0 202.4 469.0 201.2 472.6 198C476.2 194.8 479.6 189.6 482.7 184.5C485.8 179.4 488.3 173.2 491.1 167.6C493.9 162.0 497.1 156.0 499.6 150.7C502.1 145.3 503.8 140.8 506.3 135.5C508.8 130.2 511.4 123.9 514.8 118.6C518.2 113.2 524.6 105.9 526.6 103.4" fill="none" stroke="url(#gy)" stroke-width="0.9"/><path d="M18.7 304.5C22.3 299.3 35.2 280.6 40.4 273.3C45.6 266.0 46.2 264.0 49.8 260.9C53.4 257.8 57.0 256.1 62.2 254.7C67.4 253.2 75.2 253.3 80.9 252.2C86.6 251.0 91.8 249.7 96.5 247.8C101.2 245.9 104.2 243.7 108.9 240.7C113.6 237.7 119.3 232.9 124.5 229.8C129.7 226.7 134.8 223.8 140 222C145.2 220.2 149.9 219.9 155.6 218.9C161.3 217.9 169.0 217.6 174.2 215.8C179.4 214.0 182.6 211.4 186.7 208C190.8 204.6 194.8 199.1 199 195.6C203.2 192.1 206.9 188.7 211.6 186.8C216.3 184.9 221.8 183.8 227 184C232.2 184.2 238.0 185.4 242.7 187.8C247.4 190.2 250.8 193.3 255 198.7C259.1 204.1 263.4 212.6 267.6 220.4C271.8 228.2 276.1 239.0 280 245.3C283.9 251.6 287.1 255.1 291 258C294.9 260.9 299.2 262.7 303.7 263C308.2 263.3 313.7 262.0 318 260C322.3 258.0 325.7 255.7 329.4 251C333.1 246.3 336.3 238.4 340 232C343.7 225.6 347.8 218.9 351.8 212.4C355.8 205.9 359.7 197.1 363.8 193C367.9 188.9 370.7 189.2 376.7 187.9C382.7 186.7 393.3 186.6 400 185.5C406.7 184.4 411.3 182.7 416.9 181.1C422.5 179.5 427.6 177.3 433.8 176C440.0 174.7 447.5 174.0 454 173.3C460.5 172.6 467.5 173.3 472.6 172C477.7 170.7 479.9 168.8 484.4 165.2C488.9 161.6 494.5 155.4 499.6 150.7C504.7 146.0 510.6 140.2 514.8 137.2C519.0 134.2 521.2 133.8 524.9 132.8C528.6 131.8 535.0 131.3 537 131" fill="none" stroke="url(#gg)" stroke-width="0.9"/>
<line x1="269" y1="455.4" x2="900" y2="455.4" stroke="#dcdcdc" stroke-width="1"/>
<rect x="331" y="214" width="88" height="25.3" fill="#4a2c52"/><rect x="331" y="239" width="88" height="19.3" fill="#00ae4f"/><rect x="331" y="258" width="88" height="18.3" fill="#7f7f7f"/><rect x="331" y="276" width="88" height="48.3" fill="#fb9747"/><rect x="331" y="324" width="88" height="56.8" fill="#3a77b4"/><rect x="331" y="380.5" width="88" height="74.8" fill="#b23a2f"/><rect x="543" y="205.5" width="88" height="25.8" fill="#4a2c52"/><rect x="543" y="231" width="88" height="20.3" fill="#00ae4f"/><rect x="543" y="251" width="88" height="18.3" fill="#7f7f7f"/><rect x="543" y="269" width="88" height="50.3" fill="#fb9747"/><rect x="543" y="319" width="88" height="59.3" fill="#3a77b4"/><rect x="543" y="378" width="88" height="77.3" fill="#b23a2f"/><rect x="755.4" y="155.5" width="87.8" height="30.8" fill="#4a2c52"/><rect x="755.4" y="186" width="87.8" height="23.3" fill="#00ae4f"/><rect x="755.4" y="209" width="87.8" height="21.8" fill="#7f7f7f"/><rect x="755.4" y="230.5" width="87.8" height="57.8" fill="#fb9747"/><rect x="755.4" y="288" width="87.8" height="73.8" fill="#3a77b4"/><rect x="755.4" y="361.5" width="87.8" height="93.8" fill="#b23a2f"/>
<line x1="604" y1="184" x2="761" y2="119.9" stroke="#d8d8d8" stroke-width="1"/>
<path d="M765.8 118.2L759.4 117.4L761.5 122.6Z" fill="#d2d2d2"/>
<ellipse cx="693.3" cy="150.5" rx="24" ry="21.2" fill="#f5820d"/>
</svg>
<div class="abs cagr" id="cagr">CAGR OF</div>
<div class="abs big" id="big">3.6</div><div class="abs bigp" id="bigp">%</div>
<div class="abs para" id="para">
<div>The global demulsifier market</div>
<div>is expected to be worth USD</div>
<div>2.8 billion by 2028, growing at</div>
<div>a CAGR of 3.66% during the</div>
<div class="last">forecast period.</div>
</div>
<div class="abs val" style="left:334px;top:176.3px">2.3</div>
<div class="abs val" style="left:548.8px;top:174.3px">2.4</div>
<div class="abs val" style="left:767.8px;top:116.9px">2.8</div>
<div class="abs" id="pct" style="left:677.1px;top:140.7px;color:#fff;font-weight:bold;font-size:15.8px;line-height:19px;white-space:nowrap;transform-origin:0 0;transform:scaleX(1.1)">3.6<span style="font-size:10.3px;letter-spacing:0">%</span></div>
<div class="abs yr" style="left:345px;top:459.6px">2022</div>
<div class="abs yr" style="left:557px;top:459.6px">2023</div>
<div class="abs yr" style="left:769px;top:459.6px">2028</div>
<div class="sq" style="left:390.5px;background:#b23a2f"></div><div class="abs lg" style="left:399px">Middle East</div>
<div class="sq" style="left:464px;background:#3a77b4"></div><div class="abs lg" style="left:471.3px">North America</div>
<div class="sq" style="left:546.8px;background:#fb9747"></div><div class="abs lg" style="left:554.4px">Europe</div>
<div class="sq" style="left:598.3px;background:#7f7f7f"></div><div class="abs lg" style="left:605.6px">South America</div>
<div class="sq" style="left:683.6px;background:#00ae4f"></div><div class="abs lg" style="left:691.2px">Africa</div>
<div class="sq" style="left:728.8px;background:#4a2c52"></div><div class="abs lg" style="left:736px">Asia Pacific</div>
<div class="abs" style="right:0;bottom:0;width:18px;height:18px;background:radial-gradient(circle at 0 0,rgba(255,255,255,0) 16.5px,#f4f4f4 17.2px,#fbfbfb 18.2px)"></div>
</body></html>
